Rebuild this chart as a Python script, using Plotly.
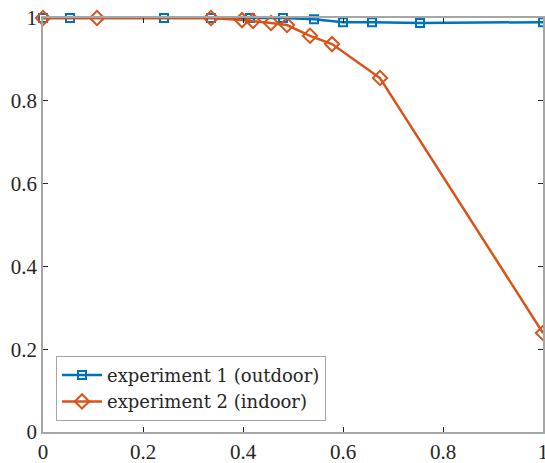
import plotly.graph_objects as go

x1 = [0, 0.054, 0.242, 0.336, 0.414, 0.48, 0.542, 0.6, 0.658, 0.754, 1.0]
y1 = [1.0, 1.0, 1.0, 1.0, 1.0, 1.0, 0.997, 0.99, 0.99, 0.988, 0.99]
x2 = [0, 0.108, 0.336, 0.398, 0.42, 0.456, 0.488, 0.534, 0.578, 0.674, 1.0]
y2 = [1.0, 1.0, 1.0, 0.995, 0.993, 0.988, 0.983, 0.957, 0.937, 0.855, 0.239]
names = ["experiment 1 (outdoor)", "experiment 2 (indoor)"]
tickvals = [0, 0.2, 0.4, 0.6, 0.8, 1]
ticktext = ["0", "0.2", "0.4", "0.6", "0.8", "1"]

blue = "#0072BD"
orange = "#D95319"
font = "Liberation Serif"

fig = go.Figure()
fig.add_trace(go.Scatter(x=x1, y=y1, name=names[0], mode="lines+markers",
                         line=dict(color=blue, width=2.5),
                         marker=dict(symbol="square-open", size=8, color=blue, line=dict(width=2)),
                         cliponaxis=False))
fig.add_trace(go.Scatter(x=x2, y=y2, name=names[1], mode="lines+markers",
                         line=dict(color=orange, width=2.5),
                         marker=dict(symbol="diamond-open", size=11, color=orange, line=dict(width=2)),
                         cliponaxis=False))

axis_common = dict(range=[0, 1], tickvals=tickvals, ticktext=ticktext, ticks="inside",
                   ticklen=5, tickwidth=1, tickcolor="#262626", showline=True, linecolor="#a6a6a6",
                   linewidth=1.5, mirror="ticks", showgrid=False, zeroline=False, automargin=False,
                   ticklabeloverflow="allow",
                   tickfont=dict(family=font, size=21, color="#262626"))
fig.update_xaxes(**axis_common)
fig.update_yaxes(**axis_common)

fig.update_layout(
    width=545, height=463,
    margin=dict(l=43, r=2, t=18, b=31),
    plot_bgcolor="white", paper_bgcolor="white",
    font=dict(family=font, size=21, color="#262626"),
    legend=dict(x=0.026, y=0.027, xanchor="left", yanchor="bottom",
                bordercolor="#a6a6a6", borderwidth=1, bgcolor="white",
                font=dict(family="DejaVu Serif", size=18, color="#262626"),
                tracegroupgap=0, itemwidth=40),
    showlegend=True,
)

fig.write_html("out.html", config={"displayModeBar": False},
               post_script="document.body.style.margin='0';document.body.style.overflow='hidden';")
